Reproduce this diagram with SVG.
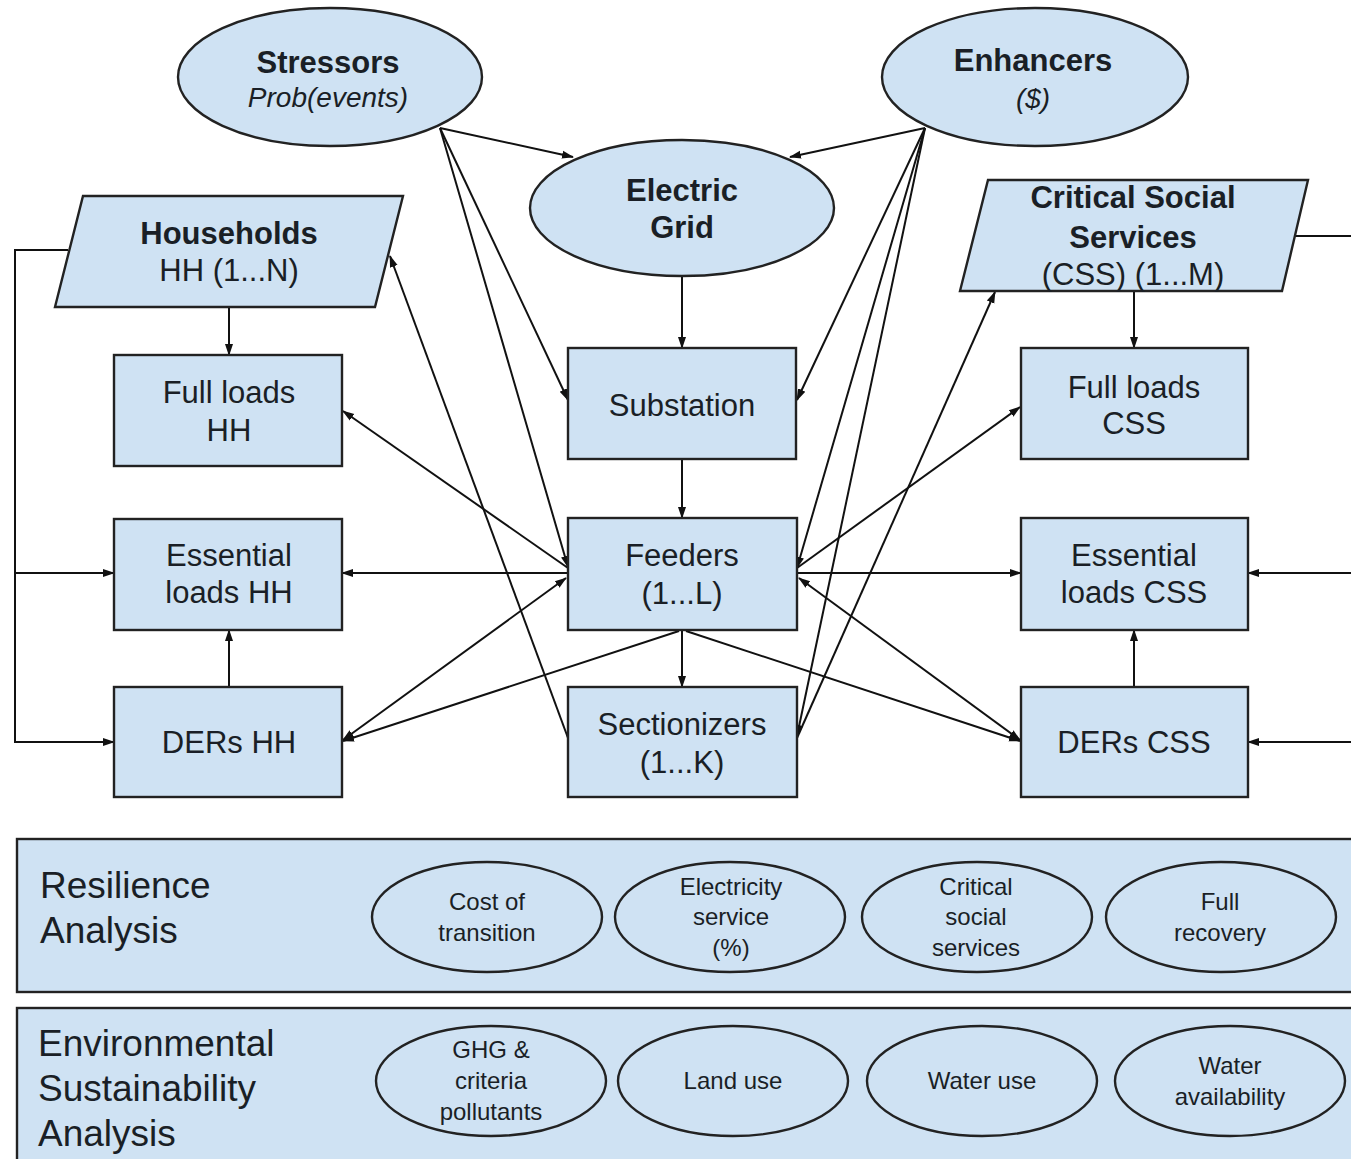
<svg xmlns="http://www.w3.org/2000/svg" width="1351" height="1159" viewBox="0 0 1351 1159">
<defs>
<style>
.shape{fill:#cfe2f3;stroke:#222;stroke-width:2.4}
.t{font-family:"Liberation Sans",Arial,sans-serif;font-size:31px;fill:#1a1f26;text-anchor:middle}
.b{font-weight:bold}
.i{font-style:italic;font-size:28px}
.s{font-family:"Liberation Sans",Arial,sans-serif;font-size:24px;fill:#1a1f26;text-anchor:middle}
.big{font-family:"Liberation Sans",Arial,sans-serif;font-size:37px;fill:#1a1f26}
.c{fill:none;stroke:#111;stroke-width:2}
</style>
<marker id="ah" viewBox="0 0 12 10" refX="11" refY="5" markerWidth="12" markerHeight="10" markerUnits="userSpaceOnUse" orient="auto-start-reverse">
<path d="M0,1 L12,5 L0,9 z" fill="#111"/>
</marker>
</defs>
<rect width="1351" height="1159" fill="#ffffff"/>

<g id="connectors">
<!-- Stressors -->
<line class="c" x1="440" y1="128" x2="573" y2="157" marker-end="url(#ah)"/>
<line class="c" x1="440" y1="128" x2="568" y2="400" marker-end="url(#ah)"/>
<line class="c" x1="440" y1="128" x2="568" y2="567" marker-end="url(#ah)"/>
<!-- Enhancers -->
<line class="c" x1="925" y1="128" x2="790" y2="157" marker-end="url(#ah)"/>
<line class="c" x1="925" y1="128" x2="797" y2="400" marker-end="url(#ah)"/>
<line class="c" x1="925" y1="128" x2="797" y2="568" marker-end="url(#ah)"/>
<line class="c" x1="925" y1="128" x2="797" y2="736" marker-end="url(#ah)"/>
<!-- Grid chain -->
<line class="c" x1="682" y1="277" x2="682" y2="348" marker-end="url(#ah)"/>
<line class="c" x1="682" y1="459" x2="682" y2="518" marker-end="url(#ah)"/>
<line class="c" x1="682" y1="630" x2="682" y2="687" marker-end="url(#ah)"/>
<!-- Sectionizers to HH / CSS -->
<line class="c" x1="568" y1="738" x2="390" y2="256" marker-end="url(#ah)"/>
<line class="c" x1="797" y1="738" x2="995" y2="292" marker-end="url(#ah)"/>
<!-- Feeders left -->
<line class="c" x1="568" y1="568" x2="343" y2="411" marker-end="url(#ah)"/>
<line class="c" x1="568" y1="573" x2="342" y2="573" marker-end="url(#ah)"/>
<line class="c" x1="566" y1="578" x2="343" y2="740" marker-start="url(#ah)" marker-end="url(#ah)"/>
<line class="c" x1="679" y1="631" x2="343" y2="741" marker-end="url(#ah)"/>
<!-- Feeders right -->
<line class="c" x1="797" y1="568" x2="1020" y2="407" marker-end="url(#ah)"/>
<line class="c" x1="797" y1="573" x2="1021" y2="573" marker-end="url(#ah)"/>
<line class="c" x1="799" y1="578" x2="1020" y2="740" marker-start="url(#ah)" marker-end="url(#ah)"/>
<line class="c" x1="686" y1="631" x2="1020" y2="741" marker-end="url(#ah)"/>
<!-- Households side -->
<line class="c" x1="229" y1="307" x2="229" y2="355" marker-end="url(#ah)"/>
<line class="c" x1="229" y1="687" x2="229" y2="630" marker-end="url(#ah)"/>
<polyline class="c" points="68,250 15,250 15,742 114,742" marker-end="url(#ah)"/>
<line class="c" x1="15" y1="573" x2="114" y2="573" marker-end="url(#ah)"/>
<!-- CSS side -->
<line class="c" x1="1134" y1="291" x2="1134" y2="348" marker-end="url(#ah)"/>
<line class="c" x1="1134" y1="687" x2="1134" y2="630" marker-end="url(#ah)"/>
<line class="c" x1="1294" y1="236" x2="1351" y2="236"/>
<line class="c" x1="1351" y1="573" x2="1248" y2="573" marker-end="url(#ah)"/>
<line class="c" x1="1351" y1="742" x2="1248" y2="742" marker-end="url(#ah)"/>
</g>

<g id="stressors">
<ellipse class="shape" cx="330" cy="77" rx="152" ry="69"/>
<text class="t b" x="328" y="73">Stressors</text>
<text class="t i" x="328" y="107">Prob(events)</text>
</g>
<g id="enhancers">
<ellipse class="shape" cx="1035" cy="77" rx="153" ry="69"/>
<text class="t b" x="1033" y="71">Enhancers</text>
<text class="t i" x="1033" y="108">($)</text>
</g>
<g id="electric-grid">
<ellipse class="shape" cx="682" cy="208" rx="152" ry="68"/>
<text class="t b" x="682" y="201">Electric</text>
<text class="t b" x="682" y="238">Grid</text>
</g>
<g id="households">
<polygon class="shape" points="83,196 403,196 375,307 55,307"/>
<text class="t b" x="229" y="244">Households</text>
<text class="t" x="229" y="281">HH (1...N)</text>
</g>
<g id="css">
<polygon class="shape" points="988,180 1308,180 1282,291 960,291"/>
<text class="t b" x="1133" y="208">Critical Social</text>
<text class="t b" x="1133" y="248">Services</text>
<text class="t" x="1133" y="285">(CSS) (1...M)</text>
</g>
<g id="full-loads-hh">
<rect class="shape" x="114" y="355" width="228" height="111"/>
<text class="t" x="229" y="403">Full loads</text>
<text class="t" x="229" y="441">HH</text>
</g>
<g id="essential-loads-hh">
<rect class="shape" x="114" y="519" width="228" height="111"/>
<text class="t" x="229" y="566">Essential</text>
<text class="t" x="229" y="603">loads HH</text>
</g>
<g id="ders-hh">
<rect class="shape" x="114" y="687" width="228" height="110"/>
<text class="t" x="229" y="753">DERs HH</text>
</g>
<g id="substation">
<rect class="shape" x="568" y="348" width="228" height="111"/>
<text class="t" x="682" y="416">Substation</text>
</g>
<g id="feeders">
<rect class="shape" x="568" y="518" width="229" height="112"/>
<text class="t" x="682" y="566">Feeders</text>
<text class="t" x="682" y="604">(1...L)</text>
</g>
<g id="sectionizers">
<rect class="shape" x="568" y="687" width="229" height="110"/>
<text class="t" x="682" y="735">Sectionizers</text>
<text class="t" x="682" y="773">(1...K)</text>
</g>
<g id="full-loads-css">
<rect class="shape" x="1021" y="348" width="227" height="111"/>
<text class="t" x="1134" y="398">Full loads</text>
<text class="t" x="1134" y="434">CSS</text>
</g>
<g id="essential-loads-css">
<rect class="shape" x="1021" y="518" width="227" height="112"/>
<text class="t" x="1134" y="566">Essential</text>
<text class="t" x="1134" y="603">loads CSS</text>
</g>
<g id="ders-css">
<rect class="shape" x="1021" y="687" width="227" height="110"/>
<text class="t" x="1134" y="753">DERs CSS</text>
</g>

<g id="resilience-analysis">
<rect class="shape" x="17" y="839" width="1350" height="153"/>
<text class="big" x="40" y="898">Resilience</text>
<text class="big" x="40" y="943">Analysis</text>
<ellipse class="shape" cx="487" cy="917" rx="115" ry="55"/>
<text class="s" x="487" y="910">Cost of</text>
<text class="s" x="487" y="941">transition</text>
<ellipse class="shape" cx="730" cy="917" rx="115" ry="55"/>
<text class="s" x="731" y="895">Electricity</text>
<text class="s" x="731" y="925">service</text>
<text class="s" x="731" y="956">(%)</text>
<ellipse class="shape" cx="977" cy="917" rx="115" ry="55"/>
<text class="s" x="976" y="895">Critical</text>
<text class="s" x="976" y="925">social</text>
<text class="s" x="976" y="956">services</text>
<ellipse class="shape" cx="1221" cy="917" rx="115" ry="55"/>
<text class="s" x="1220" y="910">Full</text>
<text class="s" x="1220" y="941">recovery</text>
</g>

<g id="environmental-analysis">
<rect class="shape" x="17" y="1008" width="1350" height="170"/>
<text class="big" x="38" y="1056">Environmental</text>
<text class="big" x="38" y="1101">Sustainability</text>
<text class="big" x="38" y="1146">Analysis</text>
<ellipse class="shape" cx="491" cy="1081" rx="115" ry="55"/>
<text class="s" x="491" y="1058">GHG &amp;</text>
<text class="s" x="491" y="1089">criteria</text>
<text class="s" x="491" y="1120">pollutants</text>
<ellipse class="shape" cx="733" cy="1081" rx="115" ry="55"/>
<text class="s" x="733" y="1089">Land use</text>
<ellipse class="shape" cx="982" cy="1081" rx="115" ry="55"/>
<text class="s" x="982" y="1089">Water use</text>
<ellipse class="shape" cx="1230" cy="1081" rx="115" ry="55"/>
<text class="s" x="1230" y="1074">Water</text>
<text class="s" x="1230" y="1105">availability</text>
</g>
</svg>
